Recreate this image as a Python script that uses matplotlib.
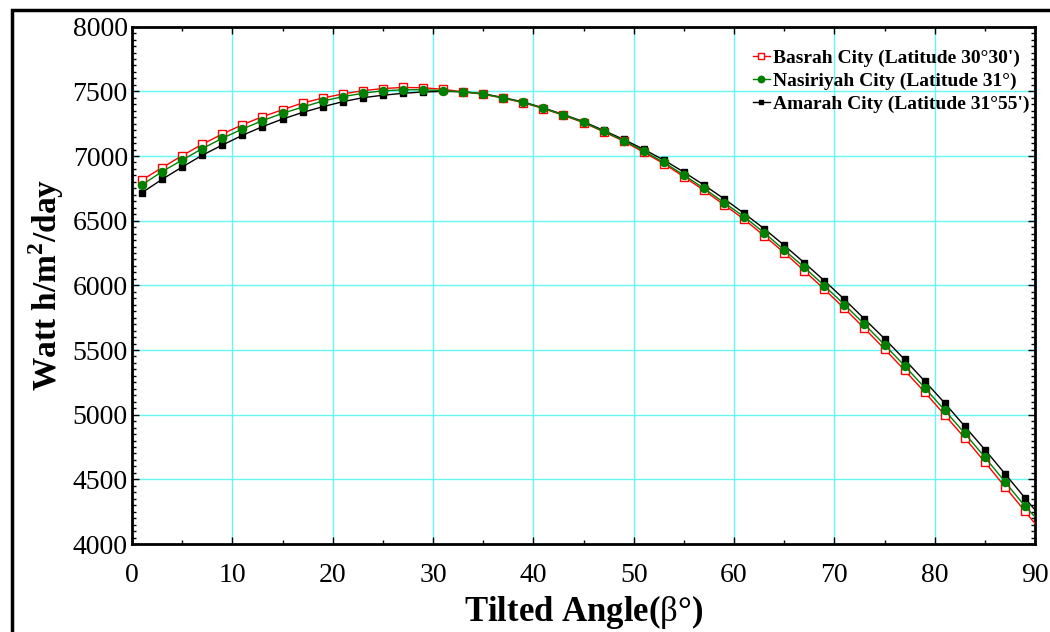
import numpy as np
import matplotlib
matplotlib.use("Agg")
import matplotlib.pyplot as plt
from matplotlib.patches import Rectangle
from matplotlib.ticker import MultipleLocator

plt.rcParams['font.family'] = ['Liberation Serif', 'DejaVu Serif']
plt.rcParams['mathtext.fontset'] = 'custom'
plt.rcParams['mathtext.rm'] = 'Liberation Serif'
plt.rcParams['mathtext.bf'] = 'Liberation Serif:bold'

# tilt angles (deg); markers at odd angles, last point at 90 has no marker
angles = list(range(1, 90, 2)) + [90]

basrah = [6815, 6910, 7003, 7091, 7170, 7242, 7304, 7358, 7410, 7448,
          7480, 7505, 7522, 7530, 7528, 7516, 7496, 7478, 7447, 7412,
          7367, 7315, 7258, 7188, 7115, 7029, 6941, 6840, 6735, 6624,
          6511, 6384, 6253, 6113, 5970, 5822, 5668, 5508, 5344, 5175,
          4998, 4820, 4634, 4443, 4253, 4158]
nasiriyah = [6778, 6879, 6969, 7057, 7137, 7209, 7273, 7330, 7378, 7425,
             7459, 7485, 7505, 7512, 7513, 7505, 7496, 7480, 7449, 7415,
             7369, 7317, 7261, 7191, 7119, 7039, 6951, 6853, 6750, 6640,
             6531, 6407, 6273, 6140, 5997, 5851, 5699, 5541, 5378, 5209,
             5034, 4856, 4671, 4482, 4292, 4210]
amarah = [6717, 6820, 6915, 7006, 7085, 7160, 7227, 7286, 7337, 7381,
          7420, 7451, 7470, 7485, 7495, 7500, 7497, 7482, 7452, 7418,
          7372, 7321, 7266, 7198, 7128, 7052, 6969, 6876, 6776, 6670,
          6557, 6438, 6310, 6175, 6036, 5892, 5740, 5588, 5427, 5260,
          5090, 4910, 4730, 4544, 4356, 4263]

labels = ["Basrah City (Latitude 30\u00b030')",
          "Nasiriyah City (Latitude 31\u00b0)",
          "Amarah City (Latitude 31\u00b055')"]

fig = plt.figure(figsize=(10.5, 6.32), dpi=100)
ax = fig.add_axes([132 / 1050, 1 - 544 / 632, 903 / 1050, 517.3 / 632])

marks = slice(0, len(angles) - 1)
ax.plot(angles, basrah, color='red', lw=1, marker='s', ms=5.2,
        mfc='white', mec='red', mew=1, markevery=marks, label=labels[0], zorder=3)
ax.plot(angles, nasiriyah, color='green', lw=1, marker='o', ms=5.8,
        mfc='green', mec='green', markevery=marks, label=labels[1], zorder=4)
ax.plot(angles, amarah, color='black', lw=1, marker='s', ms=4.2,
        mfc='black', mec='black', markevery=marks, label=labels[2], zorder=2)

ax.set_xlim(0, 90)
ax.set_ylim(4000, 8000)
ax.xaxis.set_major_locator(MultipleLocator(10))
ax.xaxis.set_minor_locator(MultipleLocator(5))
ax.yaxis.set_major_locator(MultipleLocator(500))
ax.yaxis.set_minor_locator(MultipleLocator(50))
ax.grid(True, which='major', color='#66f6f6', lw=1)
ax.set_axisbelow(True)

ax.tick_params(which='both', direction='in', top=True, right=True, labelsize=20)
ax.tick_params(which='major', length=5, width=1)
ax.tick_params(which='minor', length=3, width=1)
ax.tick_params(axis='x', pad=14)
ax.tick_params(axis='y', pad=3)
for sp in ax.spines.values():
    sp.set_linewidth(2)

ax.set_xlabel(r'Tilted Angle($\mathrm{\beta}$°)', fontsize=25, fontweight='bold', labelpad=3)
ax.set_ylabel(r'Watt h/m$^\mathbf{2}$/day', fontsize=24, fontweight='bold', labelpad=5)

ax.legend(loc='upper left', bbox_to_anchor=(753 / 1050, 1 - 49 / 632),
          bbox_transform=fig.transFigure, frameon=False, borderpad=0,
          borderaxespad=0, prop={'weight': 'bold', 'size': 14},
          handlelength=0.85, handletextpad=0.2, labelspacing=0.28,
          markerscale=0.8)

# outer border around the figure
fig.add_artist(Rectangle((12 / 1050, -0.1), 1.2, 1.1 - 10 / 632,
                         transform=fig.transFigure, fill=False,
                         lw=2.5, ec='black', clip_on=False))

fig.savefig('out.png', dpi=100)
